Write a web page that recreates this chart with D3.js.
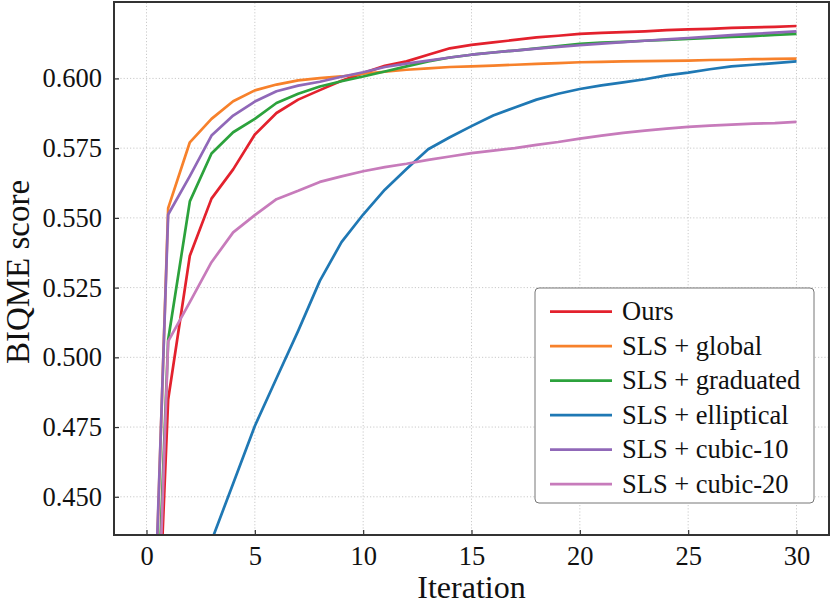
<!DOCTYPE html>
<html lang="en">
<head>
  <meta charset="UTF-8">
  <title>BIQME score vs Iteration</title>
  <script src="https://d3js.org/d3.v7.min.js"></script>
  <style>
    body {
      margin: 0;
      padding: 0;
      background: #fff;
    }
    svg text {
      font-family: "Liberation Serif", "Times New Roman", Times, "DejaVu Serif", "Noto Serif", serif;
      fill: #111;
    }
    .grid line {
      stroke: #c4c4c4;
      stroke-width: 0.9;
      stroke-dasharray: 1.2, 2;
    }
  </style>
</head>
<body>
  <div id="vis"></div>

  <script>
    // chart data
    const iterations = d3.range(0, 31);

    const seriesNames = ["Ours", "SLS + global", "SLS + graduated", "SLS + elliptical", "SLS + cubic-10", "SLS + cubic-20"];
    const seriesColors = ["#e3212d", "#f7812b", "#2ca23c", "#1f78b4", "#9068b8", "#c77bbb"];

    const ours = [0.298, 0.4849, 0.5364, 0.5569, 0.5674, 0.5799, 0.5876, 0.5924, 0.5958, 0.5992,
      0.6019, 0.6045, 0.6061, 0.6085, 0.6108, 0.6120, 0.6129, 0.6138, 0.6147, 0.6153,
      0.6160, 0.6163, 0.6166, 0.6169, 0.6173, 0.6176, 0.6178, 0.6181, 0.6183, 0.6185, 0.6188];
    const slsGlobal = [0.316, 0.5535, 0.5771, 0.5855, 0.5918, 0.5957, 0.5978, 0.5993, 0.6001, 0.6007,
      0.6017, 0.6024, 0.6031, 0.6036, 0.6041, 0.6043, 0.6046, 0.6049, 0.6052, 0.6055,
      0.6058, 0.6059, 0.6061, 0.6062, 0.6063, 0.6064, 0.6066, 0.6067, 0.6069, 0.6070, 0.6071];
    const slsGraduated = [0.305, 0.5063, 0.5559, 0.5731, 0.5807, 0.5855, 0.5912, 0.5945, 0.5971, 0.5990,
      0.6007, 0.6025, 0.6043, 0.6061, 0.6075, 0.6085, 0.6093, 0.6100, 0.6108, 0.6116,
      0.6124, 0.6128, 0.6131, 0.6135, 0.6138, 0.6142, 0.6145, 0.6149, 0.6152, 0.6156, 0.6160];
    const slsElliptical = [0.300, 0.370, 0.410, 0.4342, 0.4548, 0.4754, 0.4925, 0.5095, 0.5274, 0.5413,
      0.5512, 0.5601, 0.5675, 0.5746, 0.5789, 0.5829, 0.5867, 0.5896, 0.5924, 0.5945,
      0.5962, 0.5975, 0.5986, 0.5997, 0.6011, 0.6021, 0.6033, 0.6043, 0.6049, 0.6055, 0.6061];
    const slsCubic10 = [0.322, 0.5512, 0.5650, 0.5795, 0.5867, 0.5917, 0.5954, 0.5974, 0.5988, 0.6006,
      0.6022, 0.6041, 0.6053, 0.6064, 0.6075, 0.6085, 0.6093, 0.6100, 0.6107, 0.6113,
      0.6119, 0.6125, 0.6130, 0.6135, 0.6140, 0.6145, 0.6150, 0.6155, 0.6160, 0.6164, 0.6169];
    const slsCubic20 = [0.285, 0.5057, 0.5198, 0.5341, 0.5448, 0.5510, 0.5567, 0.5597, 0.5629, 0.5649,
      0.5667, 0.5682, 0.5694, 0.5708, 0.5720, 0.5732, 0.5741, 0.5750, 0.5762, 0.5772,
      0.5784, 0.5795, 0.5805, 0.5813, 0.5820, 0.5826, 0.5831, 0.5834, 0.5838, 0.5840, 0.5844];

    const seriesValues = [ours, slsGlobal, slsGraduated, slsElliptical, slsCubic10, slsCubic20];

    const xTicks = [0, 5, 10, 15, 20, 25, 30];
    const yTicks = [0.450, 0.475, 0.500, 0.525, 0.550, 0.575, 0.600];

    const width = 831, height = 605;
    const margin = { top: 2, right: 2, bottom: 70, left: 114 };

    const svg = d3.select("#vis").append("svg")
      .attr("width", width)
      .attr("height", height);

    const x = d3.scaleLinear()
      .domain([-1.5, 31.5])
      .range([margin.left, width - margin.right]);

    const y = d3.scaleLinear()
      .domain([0.4363, 0.6274])
      .range([height - margin.bottom, margin.top]);

    // dotted grid
    const grid = svg.append("g").attr("class", "grid");
    grid.selectAll("line.vx")
      .data(xTicks)
      .enter().append("line")
      .attr("x1", d => x(d)).attr("x2", d => x(d))
      .attr("y1", y.range()[0]).attr("y2", y.range()[1]);
    grid.selectAll("line.hy")
      .data(yTicks)
      .enter().append("line")
      .attr("x1", x.range()[0]).attr("x2", x.range()[1])
      .attr("y1", d => y(d)).attr("y2", d => y(d));

    svg.append("clipPath").attr("id", "plot-clip")
      .append("rect")
      .attr("x", x.range()[0])
      .attr("y", y.range()[1])
      .attr("width", x.range()[1] - x.range()[0])
      .attr("height", y.range()[0] - y.range()[1]);

    const line = d3.line()
      .x((d, i) => x(iterations[i]))
      .y(d => y(d));

    svg.append("g")
      .attr("clip-path", "url(#plot-clip)")
      .selectAll("path.series")
      .data(seriesValues)
      .enter().append("path")
      .attr("class", "series")
      .attr("d", line)
      .attr("fill", "none")
      .attr("stroke", (d, i) => seriesColors[i])
      .attr("stroke-width", 2.7)
      .attr("stroke-linejoin", "round");

    // axes, ticks point inward
    const xAxis = svg.append("g")
      .attr("transform", `translate(0,${y.range()[0]})`)
      .call(d3.axisBottom(x).tickValues(xTicks).tickSizeInner(-5).tickSizeOuter(0).tickPadding(12));
    const yAxis = svg.append("g")
      .attr("transform", `translate(${x.range()[0]},0)`)
      .call(d3.axisLeft(y).tickValues(yTicks).tickFormat(d3.format(".3f")).tickSizeInner(-5).tickSizeOuter(0).tickPadding(12));

    [xAxis, yAxis].forEach(g => {
      g.attr("font-family", null);
      g.select(".domain").remove();
      g.selectAll(".tick line").attr("stroke", "#333").attr("stroke-width", 1.2);
      g.selectAll(".tick text").attr("font-size", 26.5).attr("fill", "#111");
    });
    xAxis.selectAll(".tick text").attr("dy", "0.68em");

    // frame
    svg.append("rect")
      .attr("x", x.range()[0])
      .attr("y", y.range()[1])
      .attr("width", x.range()[1] - x.range()[0])
      .attr("height", y.range()[0] - y.range()[1])
      .attr("fill", "none")
      .attr("stroke", "#333")
      .attr("stroke-width", 2);

    svg.append("text")
      .attr("x", (x.range()[0] + x.range()[1]) / 2)
      .attr("y", 598)
      .attr("text-anchor", "middle")
      .attr("font-size", 32)
      .text("Iteration");

    svg.append("text")
      .attr("transform", `translate(29,272) rotate(-90)`)
      .attr("text-anchor", "middle")
      .attr("font-size", 33)
      .text("BIQME score");

    // legend
    const legend = svg.append("g").attr("transform", "translate(535,288)");
    legend.append("rect")
      .attr("width", 279)
      .attr("height", 215)
      .attr("rx", 4)
      .attr("fill", "#fff")
      .attr("stroke", "#777")
      .attr("stroke-width", 1);

    const rows = legend.selectAll("g.row")
      .data(seriesNames)
      .enter().append("g")
      .attr("class", "row")
      .attr("transform", (d, i) => `translate(0,${23.7 + i * 34.5})`);
    rows.append("line")
      .attr("x1", 15).attr("x2", 77)
      .attr("stroke", (d, i) => seriesColors[i])
      .attr("stroke-width", 2.7);
    rows.append("text")
      .attr("x", 87)
      .attr("dy", "0.33em")
      .attr("font-size", 26.5)
      .text(d => d);
  </script>
</body>
</html>
